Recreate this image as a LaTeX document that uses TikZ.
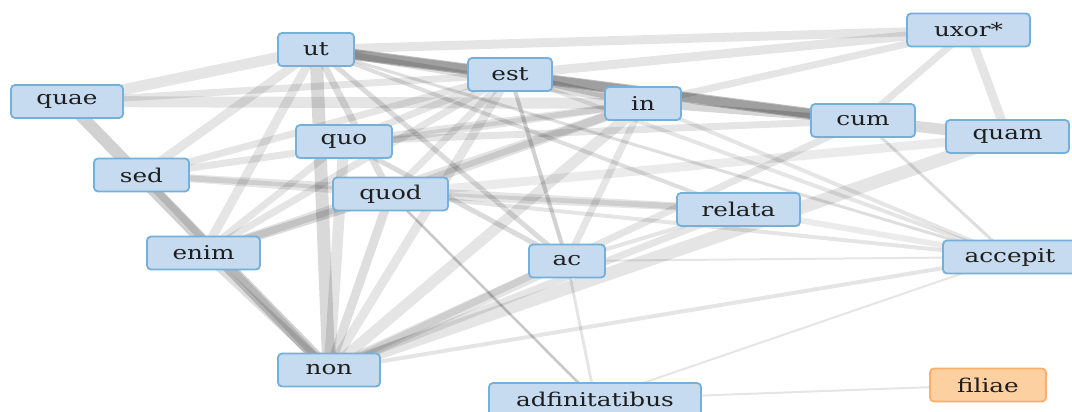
\documentclass[tikz,border=0pt]{standalone}
\usepackage{fontspec}
\setmainfont{DejaVu Serif}
\newfontfamily\wordfont[FakeStretch=1.3]{DejaVu Serif}
\pgfdeclarelayer{background}
\pgfsetlayers{background,main}
\definecolor{nodefill}{HTML}{C6DBEF}
\definecolor{nodeborder}{HTML}{74B0DA}
\definecolor{ofill}{HTML}{FDD0A2}
\definecolor{oborder}{HTML}{FDAE6B}
\definecolor{textc}{HTML}{1E1E1E}
\tikzset{
  wnode/.style={draw=nodeborder, fill=nodefill, rounded corners=4pt, line width=1.8pt,
    minimum height=33pt, inner sep=0pt, text=textc, font=\wordfont\fontsize{19}{21}\selectfont},
  onode/.style={wnode, draw=oborder, fill=ofill},
  edge/.style={draw=black, line cap=butt}
}
\begin{document}
\begin{tikzpicture}[x=1pt,y=-1pt]
\useasboundingbox (0,0) rectangle (1072,412);
\clip (0,0) rectangle (1072,412);
\node[wnode, minimum width=76pt]  (ut)    at (316,49.5) {ut};
\node[wnode, minimum width=112pt] (quae)  at (67,101.5) {quae};
\node[wnode, minimum width=84pt]  (est)   at (510,74.5) {est};
\node[wnode, minimum width=76pt]  (in)    at (643,103.5) {in};
\node[wnode, minimum width=123pt] (uxor)  at (968.5,30) {uxor*};
\node[wnode, minimum width=104pt] (cum)   at (863,120.5) {cum};
\node[wnode, minimum width=123pt] (quam)  at (1007.5,136.5) {quam};
\node[wnode, minimum width=96pt]  (quo)   at (344,141.5) {quo};
\node[wnode, minimum width=95pt]  (sed)   at (141.5,175) {sed};
\node[wnode, minimum width=115pt] (quod)  at (390.5,194) {quod};
\node[wnode, minimum width=123pt] (relata) at (738.5,209.5) {relata};
\node[wnode, minimum width=113pt] (enim)  at (203.5,253) {enim};
\node[wnode, minimum width=76pt]  (ac)    at (567,261) {ac};
\node[wnode, minimum width=134pt] (accepit) at (1010,257) {accepit};
\node[wnode, minimum width=102pt] (non)   at (329,370) {non};
\node[wnode, minimum width=212pt] (adf)   at (595,399.5) {adfinitatibus};
\node[onode, minimum width=116pt] (filiae) at (988,385) {filiae};
\begin{pgfonlayer}{background}
\foreach \a/\b/\w/\o in {
  ut/cum/11/0.24, est/cum/9/0.18, ut/est/9/0.18, est/in/7/0.16, in/cum/7/0.16,
  quae/non/12/0.18, sed/non/7/0.13, enim/non/8/0.13, ut/non/13/0.15, quo/non/11/0.11,
  cum/quam/11/0.14, uxor/quam/9/0.1, uxor/cum/7/0.1, ut/uxor/9/0.1, est/uxor/9/0.1,
  in/uxor/7/0.1, quae/ut/11/0.1, quae/in/11/0.1, quae/est/7/0.1,
  sed/ut/9/0.1, sed/est/7/0.1, sed/in/7/0.1, sed/quod/7/0.1, sed/relata/7/0.1,
  enim/ut/9/0.1, enim/est/7/0.1, enim/in/9/0.11, enim/quod/9/0.14, enim/quo/7/0.1,
  quo/est/7/0.1, quo/in/7/0.1, quo/cum/7/0.1,
  quod/in/9/0.11, quod/est/7/0.1, quod/accepit/4/0.1, quod/relata/7/0.1,
  quod/adf/2.5/0.22, ac/est/4/0.18, ac/ut/5/0.14, ac/quo/5/0.14, ac/in/7/0.1,
  ac/relata/4/0.1, ac/non/11/0.1, ac/adf/3/0.1, ac/accepit/2/0.1,
  non/in/11/0.1, non/est/9/0.1, non/quod/9/0.13, non/relata/7/0.1, non/quam/13/0.1,
  non/accepit/4/0.1, non/cum/7/0.1, relata/accepit/6/0.08, in/accepit/4/0.1,
  est/accepit/4/0.1, ut/accepit/3/0.13, cum/accepit/3/0.13, quod/quam/9/0.08,
  adf/accepit/2/0.1, adf/filiae/2/0.1, ut/relata/4/0.13, ut/quod/7/0.13, ut/in/7/0.13
}{
  \draw[edge, line width=\w pt, draw opacity=\o] (\a.center) -- (\b.center);
}
\end{pgfonlayer}
\end{tikzpicture}
\end{document}
